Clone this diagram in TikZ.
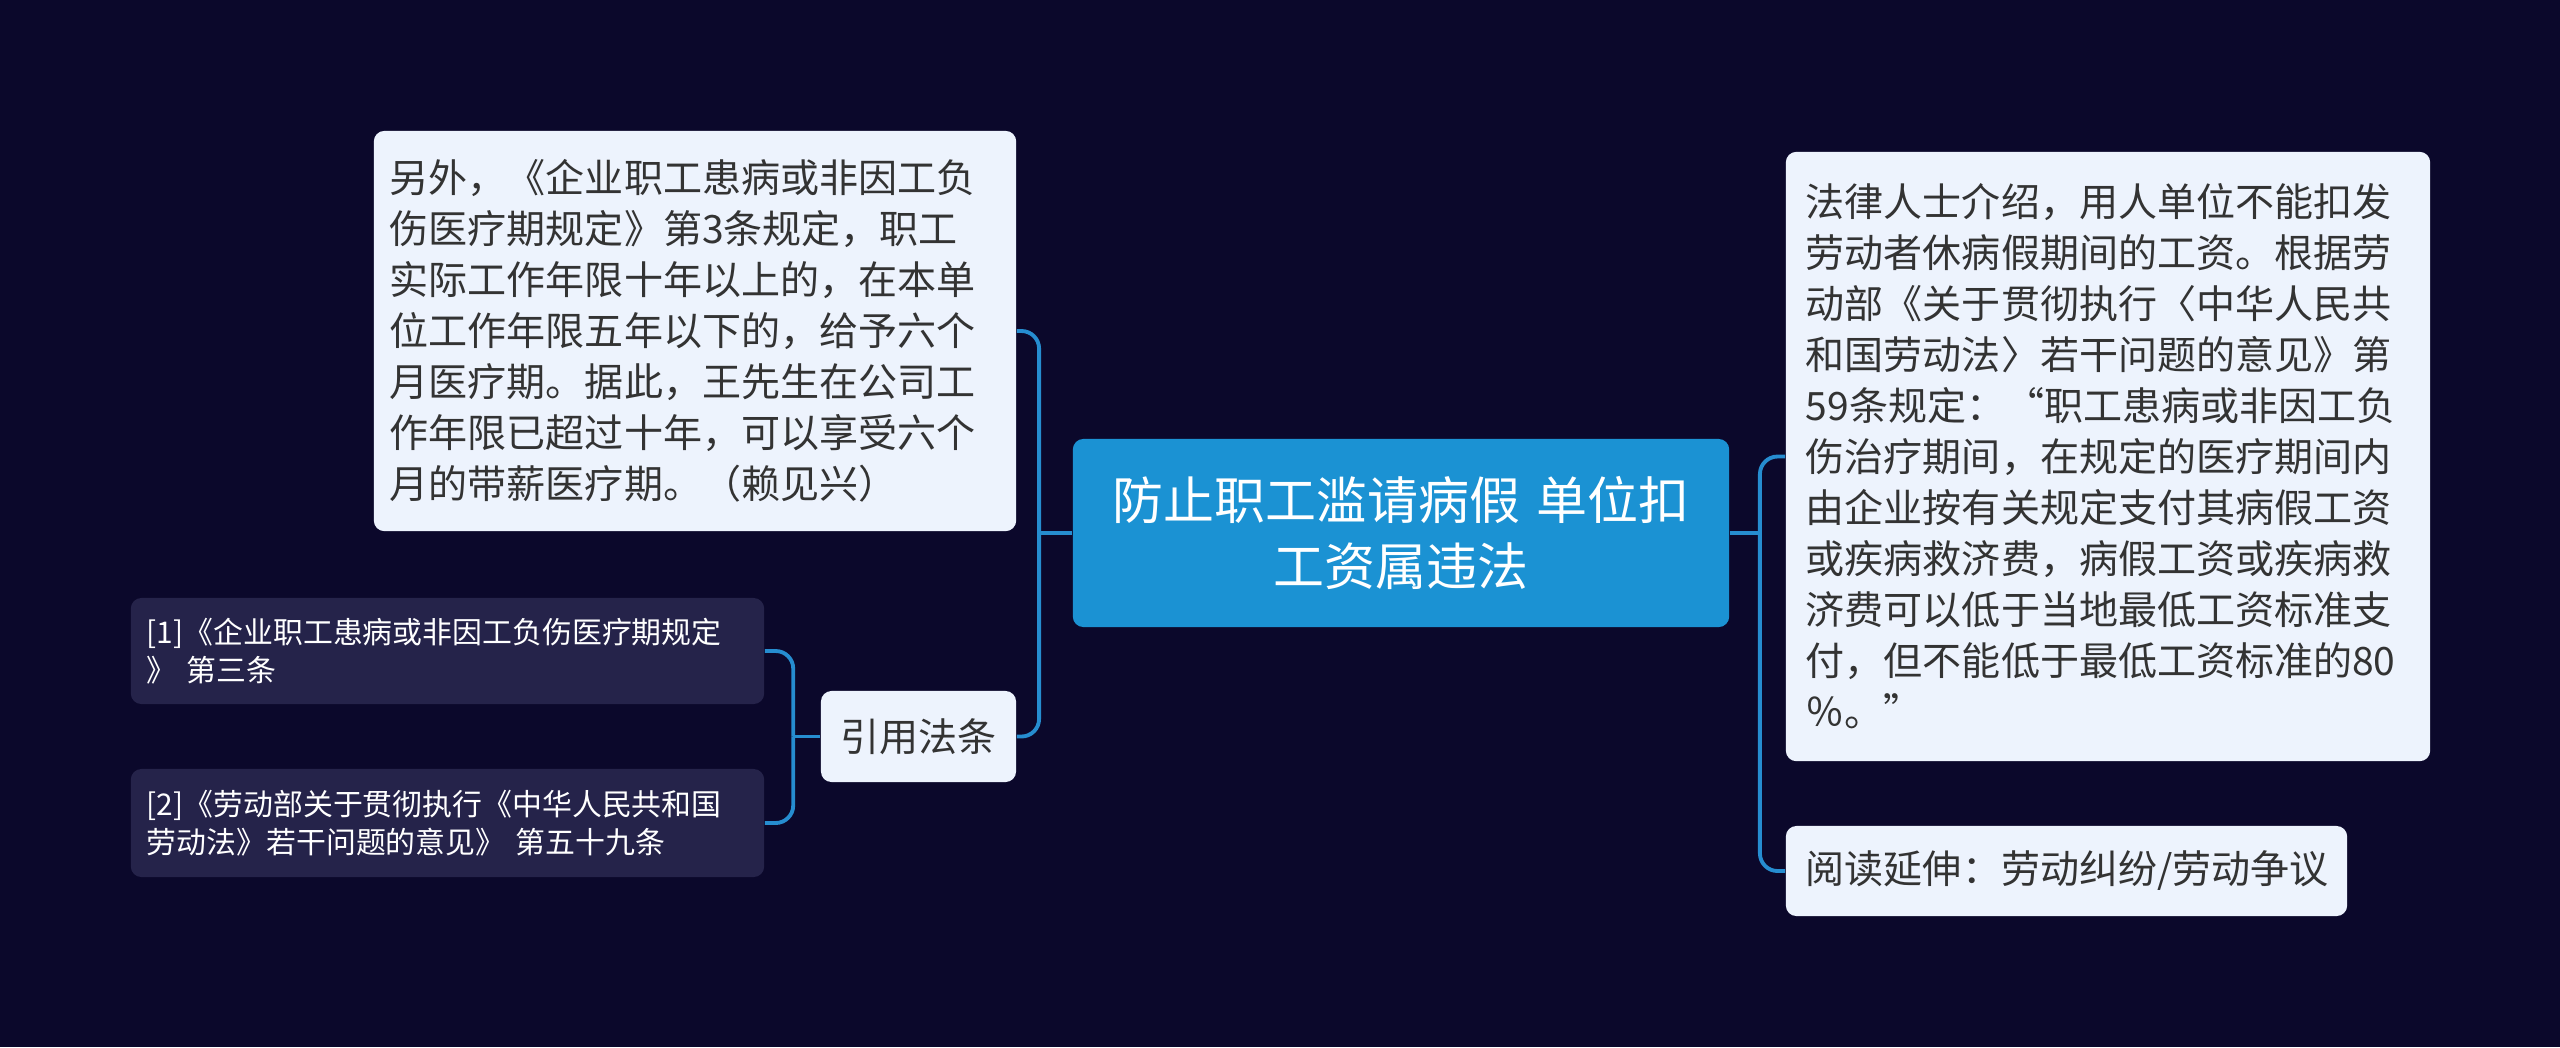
\documentclass[tikz,border=0pt]{standalone}
\usepackage{fontspec}
\setmainfont{Noto Sans CJK SC}
\usetikzlibrary{positioning}
\definecolor{bgnavy}{RGB}{11,8,43}
\definecolor{topicblue}{RGB}{27,146,211}
\definecolor{linkblue}{RGB}{38,141,208}
\definecolor{notewhite}{RGB}{237,243,253}
\definecolor{refpurple}{RGB}{37,35,74}
\definecolor{textgray}{RGB}{51,51,51}
\tikzset{
  box/.style={
    rounded corners=3pt,
    align=left,
    inner ysep=0pt,
    inner xsep=0.16cm,
    text=textgray
  },
  topic/.style={box, fill=topicblue, text=white, align=center,
    text width=6.24cm, minimum height=1.88cm,
    font=\fontsize{14.5pt}{19pt}\selectfont},
  note/.style={box, fill=notewhite, font=\fontsize{11.1pt}{14.5pt}\selectfont},
  refbox/.style={box, fill=refpurple, text=white, text width=6.01cm,
    font=\fontsize{8.5pt}{10.7pt}\selectfont},
  link/.style={draw=linkblue, line width=1.1pt, rounded corners=5pt}
}

\begin{document}
\begin{tikzpicture}[x=0.01cm, y=-0.01cm]
  \fill[bgnavy] (0,0) rectangle (2560,1047);

  \node[topic] (topic) at (1401,533) {防止职工滥请病假 单位扣\\工资属违法};

  \node[note, text width=6.10cm, minimum height=4cm] (lnote) at (695,331) {另外，《企业职工患病或非因工负\\
    伤医疗期规定》第3条规定，职工\\
    实际工作年限十年以上的，在本单\\
    位工作年限五年以下的，给予六个\\
    月医疗期。据此，王先生在公司工\\
    作年限已超过十年，可以享受六个\\
    月的带薪医疗期。（赖见兴）};

  \node[note, align=center, text width=1.63cm, minimum height=0.91cm] (cite) at (918.5,736.5) {引用法条};

  \node[refbox, minimum height=1.06cm] (ref1) at (447.5,651) {[1]《企业职工患病或非因工负伤医疗期规定\\
    》 第三条};
  \node[refbox, minimum height=1.08cm] (ref2) at (447.5,823) {[2]《劳动部关于贯彻执行《中华人民共和国\\
    劳动法》若干问题的意见》 第五十九条};

  \node[note, inner xsep=0.2cm, text width=6.04cm, minimum height=6.09cm] (rnote) at (2108,456.5) {法律人士介绍，用人单位不能扣发\\
    劳动者休病假期间的工资。根据劳\\
    动部《关于贯彻执行〈中华人民共\\
    和国劳动法〉若干问题的意见》第\\
    59条规定：“职工患病或非因工负\\
    伤治疗期间，在规定的医疗期间内\\
    由企业按有关规定支付其病假工资\\
    或疾病救济费，病假工资或疾病救\\
    济费可以低于当地最低工资标准支\\
    付，但不能低于最低工资标准的80\\
    ％。”};

  \node[note, inner xsep=0.2cm, text width=5.21cm, minimum height=0.9cm] (more) at (2066.5,871) {阅读延伸：劳动纠纷/劳动争议};

  % branch points
  \coordinate (jl) at ([xshift=-0.33cm]topic.west);
  \coordinate (jr) at ([xshift=0.30cm]topic.east);
  \coordinate (jc) at ([xshift=-0.27cm]cite.west);

  \draw[link] (topic.west) -- (jl);
  \draw[link] (jl) |- (lnote.east);
  \draw[link] (jl) |- (cite.east);
  \draw[link] (topic.east) -- (jr);
  \draw[link] (jr) |- (rnote.west);
  \draw[link] (jr) |- (more.west);
  \draw[link] (cite.west) -- (jc);
  \draw[link] (jc) |- (ref1.east);
  \draw[link] (jc) |- (ref2.east);
\end{tikzpicture}
\end{document}
